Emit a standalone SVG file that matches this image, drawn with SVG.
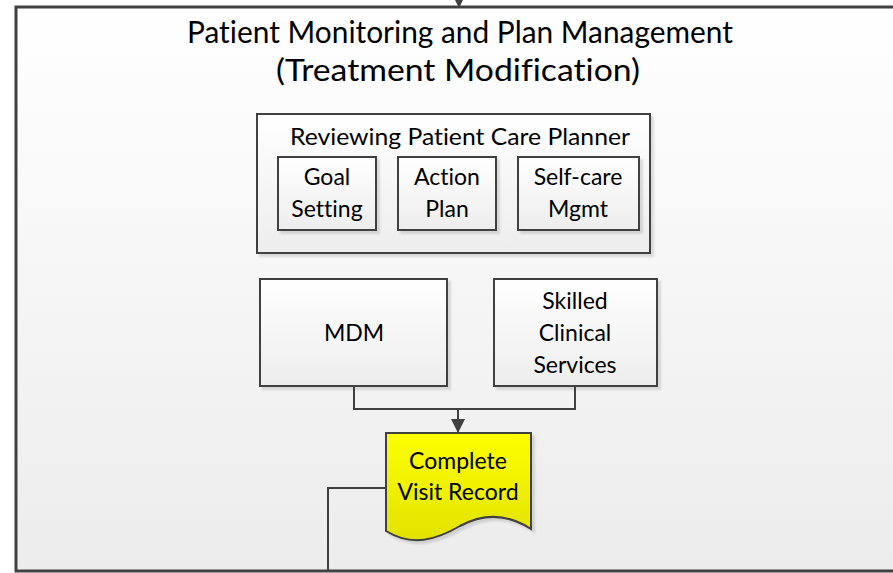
<svg xmlns="http://www.w3.org/2000/svg" width="893" height="573" viewBox="0 0 893 573">
  <defs>
    <linearGradient id="gOuter" x1="0" y1="0" x2="0" y2="1">
      <stop offset="0" stop-color="#ffffff"/>
      <stop offset="1" stop-color="#ececec"/>
    </linearGradient>
    <linearGradient id="gBox" x1="0" y1="0" x2="0" y2="1">
      <stop offset="0" stop-color="#ffffff"/>
      <stop offset="1" stop-color="#ededed"/>
    </linearGradient>
    <linearGradient id="gDoc" x1="0" y1="0" x2="0" y2="1">
      <stop offset="0" stop-color="#ffff00"/>
      <stop offset="1" stop-color="#e2e200"/>
    </linearGradient>
    <filter id="shadow" x="-10%" y="-10%" width="130%" height="130%">
      <feDropShadow dx="3" dy="3" stdDeviation="1" flood-color="#000" flood-opacity="0.12"/>
    </filter>
    <marker id="arrow" viewBox="0 0 14 14" refX="14" refY="7" markerWidth="14" markerHeight="14" markerUnits="userSpaceOnUse" orient="auto">
      <path d="M0,0 L14,7 L0,14 Z" fill="#404040"/>
    </marker>
  </defs>
  <style>
    .box { fill: url(#gBox); stroke: #404040; stroke-width: 2; filter: url(#shadow); }
    .outer { fill: url(#gOuter); stroke: #404040; stroke-width: 3; }
    .doc { fill: url(#gDoc); stroke: #404040; stroke-width: 2; filter: url(#shadow); }
    .conn { fill: none; stroke: #404040; stroke-width: 2; }
    text { font-family: Lato, "Open Sans", "Liberation Sans", sans-serif; fill: #000; text-anchor: middle; font-variant-ligatures: none; }
    .title { font-size: 30px; }
    .lbl { font-size: 23px; }
  </style>

  <!-- container: monitoring and plan management -->
  <g id="monitoring">
    <rect class="outer" x="16" y="7" width="900" height="564"/>
    <text class="title" x="460" y="43" textLength="546" lengthAdjust="spacingAndGlyphs">Patient Monitoring and Plan Management</text>
    <text class="title" x="458" y="81" textLength="364" lengthAdjust="spacingAndGlyphs">(Treatment Modification)</text>
  </g>

  <!-- care planner review with its three parts -->
  <g id="care-planner">
    <rect class="box" x="257" y="114" width="393" height="139"/>
    <text class="lbl" x="460" y="145" textLength="340" lengthAdjust="spacingAndGlyphs">Reviewing Patient Care Planner</text>
  </g>
  <g id="goal-setting">
    <rect class="box" x="278" y="157" width="98" height="73"/>
    <text class="lbl" x="327" y="185">Goal</text>
    <text class="lbl" x="327" y="217">Setting</text>
  </g>
  <g id="action-plan">
    <rect class="box" x="398" y="157" width="98" height="73"/>
    <text class="lbl" x="447" y="185">Action</text>
    <text class="lbl" x="447" y="217">Plan</text>
  </g>
  <g id="self-care">
    <rect class="box" x="518" y="157" width="121" height="73"/>
    <text class="lbl" x="578" y="185">Self-care</text>
    <text class="lbl" x="578" y="217">Mgmt</text>
  </g>

  <g id="mdm">
    <rect class="box" x="260" y="279" width="187" height="107"/>
    <text class="lbl" x="354" y="341">MDM</text>
  </g>
  <g id="skilled-services">
    <rect class="box" x="494" y="279" width="163" height="107"/>
    <text class="lbl" x="575" y="309">Skilled</text>
    <text class="lbl" x="575" y="341">Clinical</text>
    <text class="lbl" x="575" y="373">Services</text>
  </g>

  <g id="visit-record">
    <path class="doc" d="M386,433 H531 V529 C508,514 484,513 460,526 C436,540 412,547 386,531 Z"/>
    <text class="lbl" x="458" y="469">Complete</text>
    <text class="lbl" x="458" y="500">Visit Record</text>
  </g>

  <!-- connectors -->
  <g id="connectors">
    <path class="conn" d="M459,-14 V8" marker-end="url(#arrow)"/>
    <path class="conn" d="M354,386 V409 H575 V386"/>
    <path class="conn" d="M458,409 V433" marker-end="url(#arrow)"/>
    <path class="conn" d="M386,488 H328 V571"/>
  </g>
</svg>
